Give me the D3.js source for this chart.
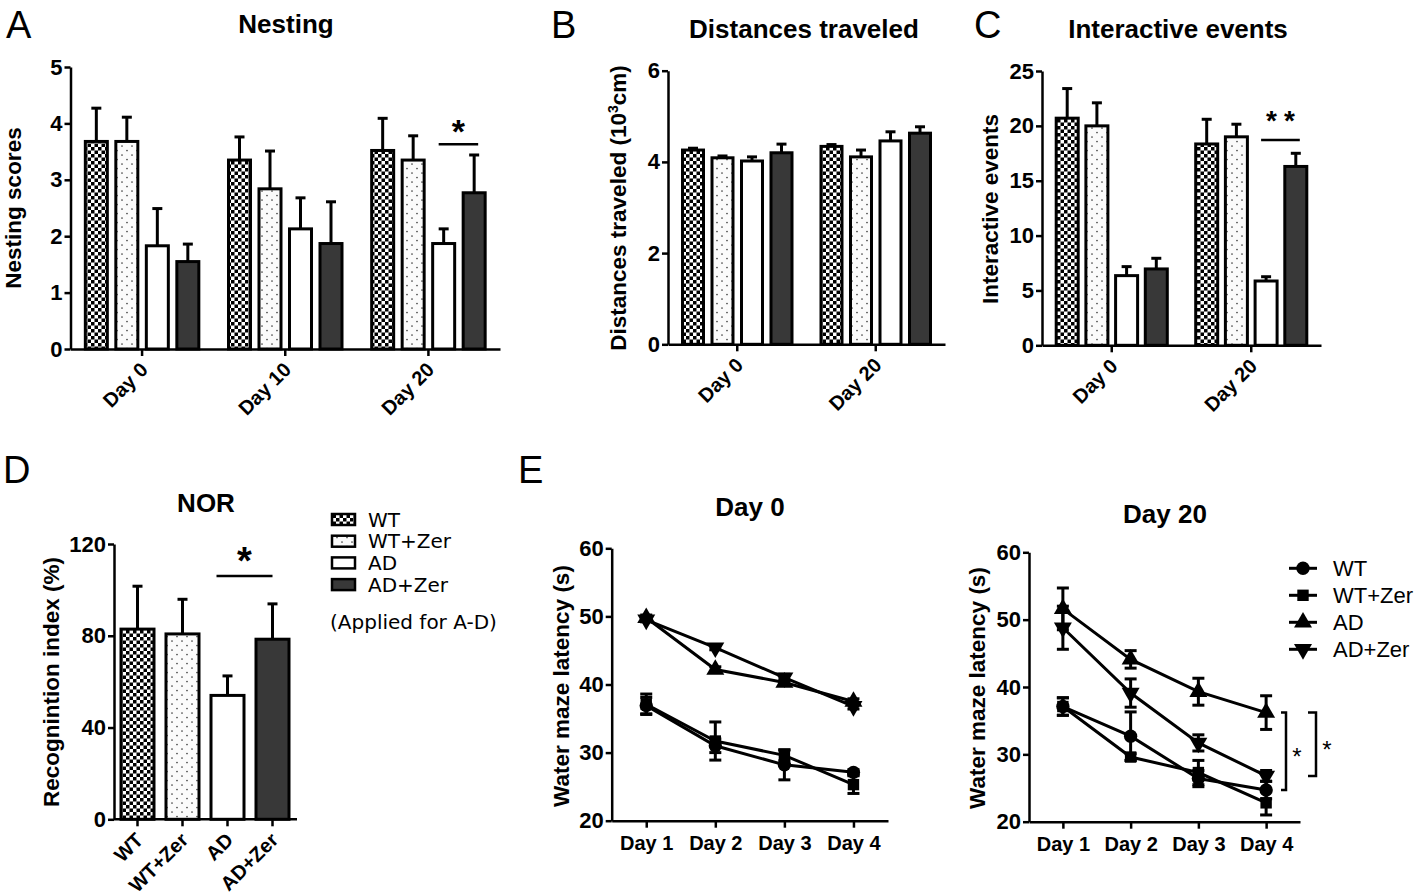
<!DOCTYPE html>
<html><head><meta charset="utf-8">
<script src="https://cdn.jsdelivr.net/npm/d3@7"></script>
<style>
body{margin:0;background:#fff}
svg text{font-family:"Liberation Sans",Arial,sans-serif;fill:#000}
</style></head><body>
<svg id="fig" width="1418" height="896"></svg>
<script>
// ---------------- DATA ----------------
const groups = ["WT","WT+Zer","AD","AD+Zer"];
// A: Nesting
const nestDays = ["Day 0","Day 10","Day 20"];
const nestMean = [[3.68,3.68,1.83,1.55],[3.35,2.84,2.13,1.87],[3.52,3.35,1.87,2.77]];
const nestErr  = [[0.59,0.43,0.66,0.31],[0.41,0.67,0.55,0.74],[0.57,0.43,0.26,0.67]];
const nestTicks = [0,1,2,3,4,5];
// B: Distances traveled (10^3 cm)
const distDays = ["Day 0","Day 20"];
const distMean = [[4.26,4.09,4.02,4.20],[4.34,4.11,4.46,4.63]];
const distErr  = [[0.04,0.04,0.09,0.19],[0.04,0.15,0.20,0.14]];
const distTicks = [0,2,4,6];
// C: Interactive events
const interDays = ["Day 0","Day 20"];
const interMean = [[20.7,20.0,6.35,6.96],[18.35,19.0,5.86,16.3]];
const interErr  = [[2.7,2.1,0.82,0.97],[2.25,1.15,0.39,1.2]];
const interTicks = [0,5,10,15,20,25];
// D: NOR recognition index (%)
const norMean = [82.9,80.8,54.0,78.5];
const norErr  = [18.7,15.1,8.5,15.4];
const norTicks = [0,40,80,120];
// E: Water maze latency (s)
const trialDays = ["Day 1","Day 2","Day 3","Day 4"];
const maze0Mean = [[36.9,31.0,28.2,27.1],[37.1,31.7,29.6,25.3],[49.8,42.2,40.3,37.5],[49.5,45.4,41.0,36.8]];
const maze0Err  = [[1.2,1.0,2.2,0.4],[1.5,2.8,0.8,1.3],[0.4,0.4,0.4,0.4],[0.3,0.3,0.5,0.4]];
const maze20Mean = [[37.1,32.7,26.4,24.7],[37.1,29.6,27.3,22.8],[51.6,44.1,39.3,36.2],[48.8,39.1,31.7,26.8]];
const maze20Err  = [[1.3,3.6,1.2,1.3],[1.3,0.5,1.8,1.8],[3.1,1.3,2.0,2.5],[3.2,2.1,1.2,0.8]];
const mazeTicks = [20,30,40,50,60];
// significance annotations (data units)
const nestSig = {cat:"Day 20", a:2, b:3, level:3.63, label:"*"};
const interSig = {cat:"Day 20", a:2, b:3, level:18.7, label:"**"};
const norSig = {a:2, b:3, level:106, label:"*"};
const mazeSig = [{day:"Day 4", a:2, b:0, label:"*"},{day:"Day 4", a:2, b:3, label:"*"}];

// ---------------- SETUP ----------------
const svg = d3.select("#fig");
const defs = svg.append("defs");
const chk = defs.append("pattern").attr("id","checker").attr("width",7).attr("height",7).attr("patternUnits","userSpaceOnUse");
chk.append("rect").attr("width",7).attr("height",7).attr("fill","#fff");
chk.append("rect").attr("width",3.5).attr("height",3.5).attr("fill","#000");
chk.append("rect").attr("x",3.5).attr("y",3.5).attr("width",3.5).attr("height",3.5).attr("fill","#000");
const dts = defs.append("pattern").attr("id","dots").attr("width",10).attr("height",9).attr("patternUnits","userSpaceOnUse");
dts.append("rect").attr("width",10).attr("height",9).attr("fill","#fbfbfb");
dts.append("circle").attr("cx",2).attr("cy",2).attr("r",0.85).attr("fill","#444");
dts.append("circle").attr("cx",7).attr("cy",6.5).attr("r",0.85).attr("fill","#444");
const fills = ["url(#checker)","url(#dots)","#ffffff","#383838"];
const FONT = "Liberation Sans, Arial, sans-serif";

function styleAxis(sel, size){
  sel.selectAll("path.domain").attr("stroke","#000").attr("stroke-width",2.5);
  sel.selectAll(".tick line").attr("stroke","#000").attr("stroke-width",2.5);
  sel.selectAll(".tick text").attr("fill","#000").style("font-family",FONT)
     .style("font-weight","bold").style("font-size",(size||20)+"px");
}
function yAxis(y, ticks, x0){
  const ax = svg.append("g").attr("transform",`translate(${x0},0)`)
    .call(d3.axisLeft(y).tickValues(ticks).tickFormat(d3.format("d")).tickSize(6).tickSizeOuter(0).tickPadding(2));
  styleAxis(ax, 22);
  return ax;
}
function xAxisRot(x, y0){
  const ax = svg.append("g").attr("transform",`translate(0,${y0})`)
    .call(d3.axisBottom(x).tickSize(7).tickSizeOuter(0));
  styleAxis(ax, 20);
  ax.selectAll(".tick text").attr("x",0).attr("y",0).attr("dy",0)
    .attr("text-anchor","end").attr("transform","translate(7,22) rotate(-45)");
  return ax;
}
function text(x, y, s, size, weight, anchor, family){
  return svg.append("text").attr("x",x).attr("y",y).text(s)
    .style("font-size",size+"px").style("font-weight",weight||"normal")
    .style("font-family",family||FONT).attr("text-anchor",anchor||"middle");
}
function vlabel(cx, cy, s, size){
  return svg.append("text").attr("transform",`translate(${cx},${cy}) rotate(-90)`)
    .attr("dy","0.35em").attr("text-anchor","middle").text(s)
    .style("font-size",(size||22.5)+"px").style("font-weight","bold");
}
function drawBar(cx, w, mean, err, fill, y){
  svg.append("line").attr("x1",cx).attr("x2",cx).attr("y1",y(mean)).attr("y2",y(mean+err))
    .attr("stroke","#000").attr("stroke-width",3);
  svg.append("line").attr("x1",cx-5).attr("x2",cx+5).attr("y1",y(mean+err)).attr("y2",y(mean+err))
    .attr("stroke","#000").attr("stroke-width",3);
  svg.append("rect").attr("x",cx-w/2).attr("y",y(mean)).attr("width",w)
    .attr("height",y(0)-y(mean)).attr("fill",fill).attr("stroke","#000").attr("stroke-width",3);
}
function sigLine(x1, x2, yv, label, size, starY){
  svg.append("line").attr("x1",x1).attr("x2",x2).attr("y1",yv).attr("y2",yv)
    .attr("stroke","#000").attr("stroke-width",2.5);
  return text((x1+x2)/2, starY, label, size, "bold");
}

// ---------------- GROUPED BAR PANELS ----------------
function groupedPanel(cfg){
  const y = d3.scaleLinear().domain(cfg.domain).range(cfg.yRange);
  const x = d3.scaleBand().domain(cfg.cats).range(cfg.xRange);
  const inner = d3.scalePoint().domain(groups).range([-1.5*cfg.step, 1.5*cfg.step]);
  cfg.cats.forEach((c,i)=>{
    groups.forEach((gname,j)=>{
      drawBar(x(c)+x.bandwidth()/2+inner(gname), cfg.barW, cfg.means[i][j], cfg.errs[i][j], fills[j], y);
    });
  });
  yAxis(y, cfg.ticks, cfg.xRange[0]);
  xAxisRot(x, cfg.yRange[0]);
  if (cfg.sig){
    const s = cfg.sig, c0 = x(s.cat)+x.bandwidth()/2;
    const xa = c0+inner(groups[s.a])-5, xb = c0+inner(groups[s.b])+4;
    const t = sigLine(xa, xb, y(s.level), s.label, cfg.sigSize, y(s.level)+cfg.sigDy);
    if (cfg.sigSpacing) t.style("letter-spacing",cfg.sigSpacing+"px").attr("x",(xa+xb)/2+cfg.sigSpacing/2);
  }
  return {x,y};
}

// Panel A
groupedPanel({cats:nestDays, means:nestMean, errs:nestErr, domain:[0,5], ticks:nestTicks,
  xRange:[70.5,500], yRange:[349,67], step:30.5, barW:22, sig:nestSig, sigSize:34, sigDy:-1});
text(286, 33, "Nesting", 26, "bold");
vlabel(13, 208, "Nesting scores");
text(6, 38, "A", 38, "normal", "start");

// Panel B
groupedPanel({cats:distDays, means:distMean, errs:distErr, domain:[0,6], ticks:distTicks,
  xRange:[668,945], yRange:[344.3,70.7], step:29.5, barW:21});
text(804, 38, "Distances traveled", 26, "bold");
{
  const t = svg.append("text").attr("transform","translate(618,208) rotate(-90)")
    .attr("dy","0.35em").attr("text-anchor","middle").style("font-size","22.5px").style("font-weight","bold");
  t.append("tspan").text("Distances traveled (10");
  t.append("tspan").attr("dy",-8).style("font-size","14px").text("3");
  t.append("tspan").attr("dy",8).text("cm)");
}
text(551, 38, "B", 38, "normal", "start");

// Panel C
groupedPanel({cats:interDays, means:interMean, errs:interErr, domain:[0,25], ticks:interTicks,
  xRange:[1042,1321], yRange:[345.3,71], step:29.7, barW:22, sig:interSig, sigSize:28, sigDy:-10, sigSpacing:7});
text(1178, 38, "Interactive events", 26, "bold");
vlabel(990, 209, "Interactive events");
text(974, 38, "C", 38, "normal", "start");

// ---------------- PANEL D ----------------
{
  const y = d3.scaleLinear().domain([0,120]).range([819.3,544]);
  const x = d3.scaleBand().domain(groups).range([115,295]);
  groups.forEach((gname,j)=> drawBar(x(gname)+x.bandwidth()/2, 33, norMean[j], norErr[j], fills[j], y));
  yAxis(y, norTicks, 114);
  const ax = xAxisRot(x, 819.3);
  ax.select("path.domain").attr("d",`M114,0H297`);
  const xa = x(groups[norSig.a])+x.bandwidth()/2-11, xb = x(groups[norSig.b])+x.bandwidth()/2;
  sigLine(xa, xb, y(norSig.level), norSig.label, 38, y(norSig.level)-2);
  text(206, 512, "NOR", 26, "bold");
  vlabel(51, 682, "Recognintion index (%)");
  text(3, 483, "D", 38, "normal", "start");
  // legend
  groups.forEach((gname,j)=>{
    const ry = 519.5 + j*21.7;
    svg.append("rect").attr("x",332).attr("y",ry-5.5).attr("width",23).attr("height",11)
      .attr("fill",fills[j]).attr("stroke","#000").attr("stroke-width",2.5);
    text(368, ry+7, gname, 20, "normal", "start", "DejaVu Sans, sans-serif");
  });
  text(330, 629, "(Applied for A-D)", 20, "normal", "start", "DejaVu Sans, sans-serif");
}

// ---------------- PANEL E ----------------
const markerTypes = [d3.symbolCircle, d3.symbolSquare, d3.symbolTriangle, d3.symbolTriangle];
const markerSizes = [140, 130, 140, 140];
function marker(cx, cy, j){
  svg.append("path").attr("d", d3.symbol().type(markerTypes[j]).size(markerSizes[j])())
    .attr("transform",`translate(${cx},${cy})${j===3?" rotate(180)":""}`).attr("fill","#000");
}
function linePanel(cfg){
  const y = d3.scaleLinear().domain([20,60]).range(cfg.yRange);
  const x = d3.scalePoint().domain(trialDays).range(cfg.xRange).padding(0.5);
  const line = d3.line().x((d,i)=>x(trialDays[i])).y(d=>y(d));
  cfg.means.forEach((m,j)=>{
    svg.append("path").attr("d",line(m)).attr("fill","none").attr("stroke","#000").attr("stroke-width",3);
  });
  cfg.means.forEach((m,j)=>{
    m.forEach((v,i)=>{
      const cx = x(trialDays[i]), e = cfg.errs[j][i];
      svg.append("line").attr("x1",cx).attr("x2",cx).attr("y1",y(v-e)).attr("y2",y(v+e)).attr("stroke","#000").attr("stroke-width",3);
      [v-e,v+e].forEach(t=> svg.append("line").attr("x1",cx-6).attr("x2",cx+6).attr("y1",y(t)).attr("y2",y(t)).attr("stroke","#000").attr("stroke-width",3));
      marker(cx, y(v), j);
    });
  });
  yAxis(y, mazeTicks, cfg.xRange[0]);
  const ax = svg.append("g").attr("transform",`translate(0,${cfg.yRange[0]})`)
    .call(d3.axisBottom(x).tickSize(7).tickSizeOuter(0));
  styleAxis(ax, 20);
  ax.selectAll(".tick text").attr("y",29).attr("dy",0);
  vlabel(cfg.labelX, cfg.labelY, "Water maze latency (s)");
  text(cfg.titleX, cfg.titleY, cfg.title, 26, "bold");
  return {x,y};
}
linePanel({means:maze0Mean, errs:maze0Err, xRange:[611.7,888], yRange:[820.7,548.3],
  labelX:561, labelY:686, title:"Day 0", titleX:750, titleY:516});
text(518, 483, "E", 38, "normal", "start");
const r20 = linePanel({means:maze20Mean, errs:maze20Err, xRange:[1029,1300], yRange:[821.7,552.3],
  labelX:977, labelY:688, title:"Day 20", titleX:1165, titleY:523});
// significance brackets
mazeSig.forEach((s,k)=>{
  const di = trialDays.indexOf(s.day);
  const y1 = r20.y(maze20Mean[s.a][di]), y2 = r20.y(maze20Mean[s.b][di]);
  const bx = k===0 ? 1286 : 1316, cap = k===0 ? 5 : 8;
  svg.append("path").attr("d",`M${bx-cap},${y1}H${bx}V${y2}H${bx-cap}`)
    .attr("fill","none").attr("stroke","#000").attr("stroke-width",2.5);
  text(bx+11, (y1+y2)/2+14, s.label, 24, "normal");
});
// legend E
groups.forEach((gname,j)=>{
  const ry = 568.3 + j*27;
  svg.append("line").attr("x1",1289).attr("x2",1317).attr("y1",ry).attr("y2",ry).attr("stroke","#000").attr("stroke-width",3);
  marker(1303, ry, j);
  text(1333, ry+8, gname, 22, "normal", "start");
});
</script>
</body></html>
